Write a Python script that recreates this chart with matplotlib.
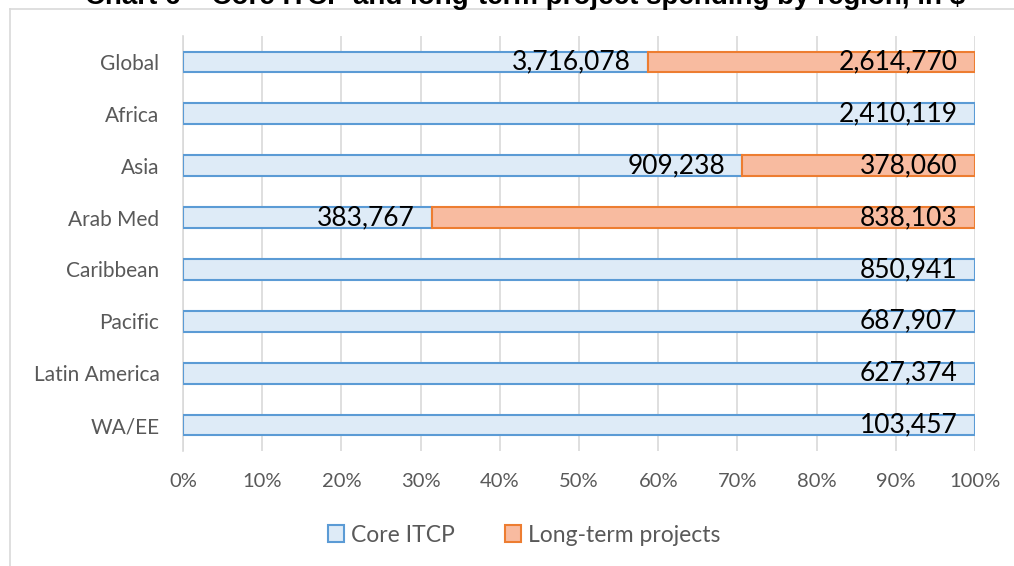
import numpy as np
import matplotlib.pyplot as plt
from matplotlib.lines import Line2D
from matplotlib.patches import Patch

regions = ["Global", "Africa", "Asia", "Arab Med", "Caribbean", "Pacific", "Latin America", "WA/EE"]
core_itcp = [3716078, 2410119, 909238, 383767, 850941, 687907, 627374, 103457]
long_term = [2614770, 0, 378060, 838103, 0, 0, 0, 0]

core = np.array(core_itcp, dtype=float)
lt = np.array(long_term, dtype=float)
total = core + lt
core_pct = core / total * 100
lt_pct = lt / total * 100

W, H = 1014, 566
fig = plt.figure(figsize=(W / 100, H / 100), dpi=100)
ax = fig.add_axes([183 / W, 1 - 451 / H, (975 - 183) / W, (451 - 36) / H])

y = np.arange(len(regions))
bh = 0.4
ax.barh(y, core_pct, height=bh, color="#DEEBF7", edgecolor="#5B9BD5", linewidth=1.5, zorder=3)
has_lt = lt > 0
ax.barh(y[has_lt], lt_pct[has_lt], left=core_pct[has_lt], height=bh, color="#F8BBA0",
        edgecolor="#ED7D31", linewidth=1.5, zorder=3)

# value labels at the right end of each segment
for i in range(len(regions)):
    ax.text(core_pct[i] - 2.2, y[i], f"{core_itcp[i]:,}", ha="right", va="center",
            fontsize=19, family="Lato", color="black", zorder=4)
    if lt[i] > 0:
        ax.text(100 - 2.2, y[i], f"{long_term[i]:,}", ha="right", va="center",
                fontsize=19, family="Lato", color="black", zorder=4)

ax.set_xlim(0, 100)
ax.set_ylim(len(regions) - 0.5, -0.5)
ax.set_xticks(np.arange(0, 101, 10))
ax.set_xticklabels([f"{v}%" for v in range(0, 101, 10)], family="Lato", fontsize=14.5, color="#595959")
ax.set_yticks(y)
ax.set_yticklabels(regions, family="Lato", fontsize=15, color="#595959")
ax.tick_params(axis="both", length=0)
ax.tick_params(axis="x", pad=16)
ax.tick_params(axis="y", pad=17)
ax.grid(axis="x", color="#D9D9D9", linewidth=1.2, zorder=0)
for s in ["top", "right", "bottom"]:
    ax.spines[s].set_visible(False)
ax.spines["left"].set_color("#D9D9D9")
ax.spines["left"].set_linewidth(1.2)

handles = [Patch(facecolor="#DEEBF7", edgecolor="#5B9BD5", linewidth=1.5, label="Core ITCP"),
           Patch(facecolor="#F8BBA0", edgecolor="#ED7D31", linewidth=1.5, label="Long-term projects")]
fig.legend(handles=handles, loc="center", bbox_to_anchor=(524 / W, 1 - 535 / H), ncol=2, frameon=False,
           prop={"family": "Lato", "size": 16.5}, labelcolor="#595959", handlelength=0.7, handleheight=0.7,
           handletextpad=0.3, columnspacing=2.2)

# chart area border (only the top and left edges are visible in the crop)
fig.add_artist(Line2D([10 / W, 10 / W], [0, 1 - 9 / H], transform=fig.transFigure, color="#D9D9D9", linewidth=1.2))
fig.add_artist(Line2D([10 / W, 1], [1 - 9 / H, 1 - 9 / H], transform=fig.transFigure, color="#D9D9D9", linewidth=1.2))

fig.text(525 / W, 1 - 4 / H, "Chart 6 – Core ITCP and long-term project spending by region, in $",
         ha="center", va="baseline", fontsize=20, fontweight="bold", family="Liberation Sans", color="black")

fig.savefig("out.png", dpi=100)
